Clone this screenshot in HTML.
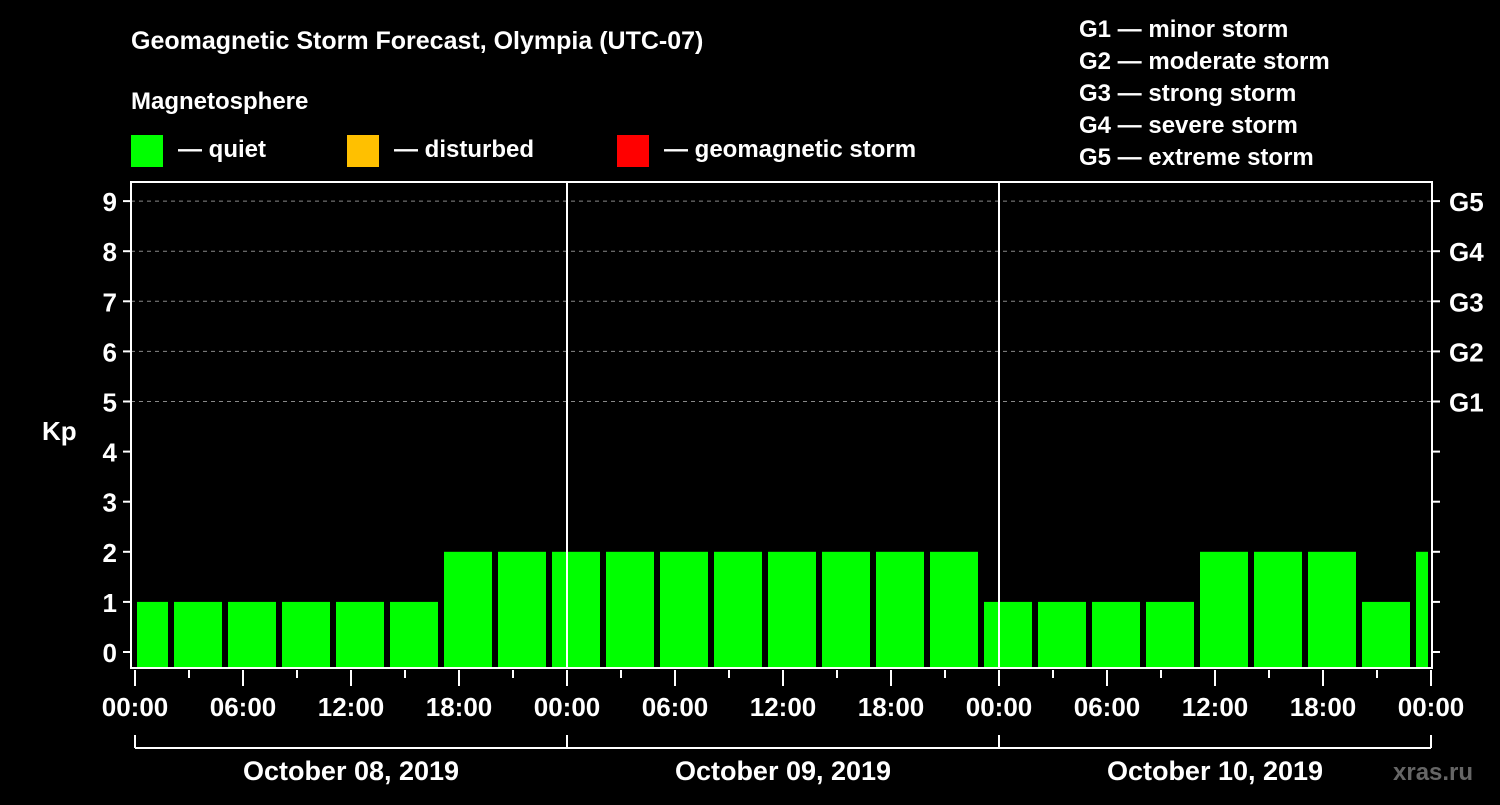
<!DOCTYPE html>
<html><head><meta charset="utf-8"><style>
body{margin:0;background:#000;width:1500px;height:800px;overflow:hidden}
text{font-family:"Liberation Sans",Arial,sans-serif;font-weight:bold;fill:#fff}
</style></head><body>
<svg id="chart" width="1500" height="800" xmlns="http://www.w3.org/2000/svg">
<text x="131" y="49" font-size="25">Geomagnetic Storm Forecast, Olympia (UTC-07)</text>
<text x="131" y="109" font-size="24">Magnetosphere</text>
<g>
<rect x="131" y="135" width="32" height="32" fill="#00ff00"/>
<text x="178" y="157" font-size="24">— quiet</text>
<rect x="347" y="135" width="32" height="32" fill="#ffc000"/>
<text x="394" y="157" font-size="24">— disturbed</text>
<rect x="617" y="135" width="32" height="32" fill="#ff0000"/>
<text x="664" y="157" font-size="24">— geomagnetic storm</text>
</g>
<g font-size="24">
<text x="1079" y="37">G1 — minor storm</text>
<text x="1079" y="69">G2 — moderate storm</text>
<text x="1079" y="101">G3 — strong storm</text>
<text x="1079" y="133">G4 — severe storm</text>
<text x="1079" y="165">G5 — extreme storm</text>
</g>
<text x="42" y="440" font-size="26">Kp</text>
<text x="1393" y="780" font-size="24" fill="#555" style="fill:#666">xras.ru</text>
<g id="grid"></g><g id="bars"></g><g id="axes"></g>
</svg>
<script>
const kpValues=[1,1,1,1,1,1,2,2,2,2,2,2,2,2,2,2,1,1,1,1,2,2,2,1,2];
const yTicks=[0,1,2,3,4,5,6,7,8,9];
const gLabels=["G1","G2","G3","G4","G5"];
const gLevels=[5,6,7,8,9];
const xTickLabels=["00:00","06:00","12:00","18:00","00:00","06:00","12:00","18:00","00:00","06:00","12:00","18:00","00:00"];
const dayLabels=["October 08, 2019","October 09, 2019","October 10, 2019"];
const binStartHour=-1;
const NS="http://www.w3.org/2000/svg";
const X0=135,PX_H=18,L=131,R=1432,T=182,B=668;
function xs(h){return X0+h*PX_H}
function ys(v){return 652-v*50.1}
function mk(tag,a,p){const e=document.createElementNS(NS,tag);for(const k in a)e.setAttribute(k,a[k]);p.appendChild(e);return e}
const grid=document.getElementById('grid'),bars=document.getElementById('bars'),axes=document.getElementById('axes');
gLevels.forEach((v,i)=>{
 const ln=mk('line',{x1:L,x2:R,y1:ys(v),y2:ys(v),stroke:'#888','stroke-dasharray':'4,4','stroke-width':1},grid);
 
 
 const t=mk('text',{x:1449,y:ys(v)+10,'font-size':26},axes);t.textContent=gLabels[i];
 
 
});
kpValues.forEach((v,i)=>{
 let s=xs(binStartHour+i*3)+3,e=xs(binStartHour+i*3+3)-3;
 s=Math.max(s,X0+2);e=Math.min(e,R-4);
 const r=mk('rect',{x:s,y:ys(v),width:e-s,height:B-ys(v),fill:v>=5?'#ff0000':(v>=4?'#ffc000':'#00ff00')},bars);
 
 
});
mk('rect',{x:L,y:T,width:R-L,height:B-T,fill:'none',stroke:'#fff','stroke-width':2},axes);
[1,2].forEach(d=>{const l=mk('line',{x1:xs(d*24),x2:xs(d*24),y1:T,y2:B,stroke:'#fff','stroke-width':2},axes);
 
 });
yTicks.forEach(v=>{
 mk('line',{x1:L-8,x2:L,y1:ys(v),y2:ys(v),stroke:'#fff','stroke-width':2},axes);
 mk('line',{x1:R,x2:R+8,y1:ys(v),y2:ys(v),stroke:'#fff','stroke-width':2},axes);
 const t=mk('text',{x:L-14,y:ys(v)+10,'font-size':26,'text-anchor':'end'},axes);t.textContent=v;
 
 
});
for(let h=0;h<=72;h+=3){
 const major=h%6===0;
 mk('line',{x1:xs(h),x2:xs(h),y1:B+2,y2:B+(major?18:10),stroke:'#fff','stroke-width':2},axes);
}
xTickLabels.forEach((s,i)=>{
 const t=mk('text',{x:xs(i*6),y:716,'font-size':26,'text-anchor':'middle'},axes);t.textContent=s;
 
 
});
mk('line',{x1:xs(0),x2:xs(72),y1:748,y2:748,stroke:'#fff','stroke-width':2},axes);
for(let d=0;d<=3;d++)mk('line',{x1:xs(d*24),x2:xs(d*24),y1:735,y2:748,stroke:'#fff','stroke-width':2},axes);
dayLabels.forEach((s,i)=>{
 const t=mk('text',{x:xs(i*24+12),y:780,'font-size':27,'text-anchor':'middle'},axes);t.textContent=s;
 
 
});
</script>
</body></html>
